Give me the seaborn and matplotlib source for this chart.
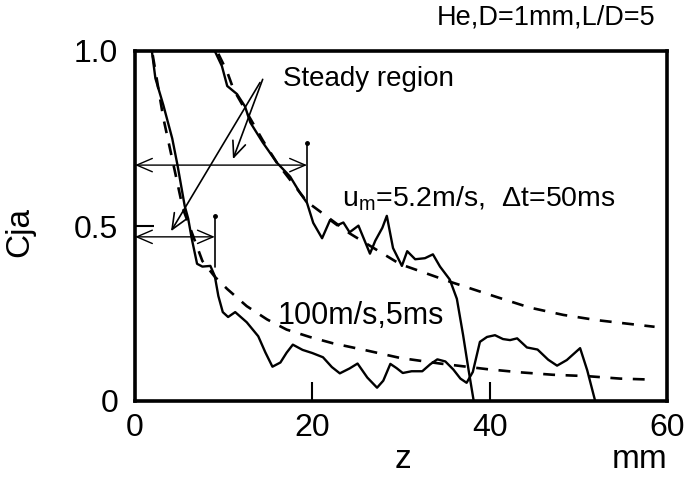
import matplotlib
matplotlib.use("Agg")
import matplotlib.pyplot as plt
import seaborn as sns
import numpy as np

# ---------------- data ----------------
# u_m = 5.2 m/s, dt = 50 ms (measured, solid)
z_slow = [9.0, 9.8, 10.4, 11.5, 12.4, 13.0, 14.4, 16.0, 17.5, 18.6, 19.4, 20.1,
          21.1, 22.0, 22.8, 23.5, 24.2, 25.2, 25.9, 26.5, 27.1, 27.9, 28.4, 29.1,
          30.1, 30.7, 31.6, 32.7, 33.6, 34.4, 35.5, 36.3, 37.0, 37.6, 38.2]
c_slow = [1.0, 0.957, 0.90, 0.877, 0.842, 0.796, 0.739, 0.681, 0.641, 0.595, 0.566, 0.509,
          0.465, 0.517, 0.502, 0.510, 0.482, 0.501, 0.458, 0.421, 0.458, 0.495, 0.529, 0.437,
          0.386, 0.428, 0.405, 0.408, 0.419, 0.384, 0.347, 0.292, 0.189, 0.092, 0.0]

# 100 m/s, 5 ms (measured, solid)
z_fast = [1.9, 2.3, 3.2, 4.2, 4.8, 5.6, 6.0, 6.4, 7.0, 7.6, 8.5, 9.0, 9.4, 9.9, 10.5,
          11.3, 12.6, 13.9, 14.7, 15.5, 16.4, 17.1, 17.8, 18.9, 20.0, 21.2, 22.2, 23.1,
          24.2, 25.1, 26.2, 27.3, 28.0, 28.8, 29.5, 30.2, 31.2, 32.4, 33.3, 34.1, 35.0,
          35.9, 36.7, 37.4, 38.1, 38.9, 39.7, 40.6, 41.5, 42.3, 43.1, 44.2, 45.4, 46.6,
          47.6, 48.7, 50.2, 51.0, 51.9]
c_fast = [1.0, 0.922, 0.845, 0.750, 0.673, 0.558, 0.521, 0.464, 0.392, 0.384, 0.386, 0.357,
          0.300, 0.254, 0.240, 0.254, 0.225, 0.185, 0.139, 0.098, 0.110, 0.138, 0.161, 0.146,
          0.137, 0.125, 0.097, 0.079, 0.093, 0.107, 0.067, 0.038, 0.058, 0.106, 0.094, 0.080,
          0.085, 0.085, 0.105, 0.119, 0.113, 0.090, 0.064, 0.052, 0.083, 0.169, 0.183, 0.188,
          0.177, 0.174, 0.179, 0.153, 0.147, 0.118, 0.101, 0.117, 0.151, 0.088, 0.0]

# reference (dashed) curves
z_slow_ref = [9.4, 10.4, 11.1, 14.4, 16.0, 19.4, 24.2, 29.9, 35.5, 40.8, 44.5, 48.3, 52.1, 55.5, 58.6]
c_slow_ref = [0.992, 0.94, 0.891, 0.745, 0.681, 0.569, 0.479, 0.391, 0.341, 0.297, 0.267, 0.246,
              0.231, 0.221, 0.212]
z_fast_ref = [2.0, 3.2, 4.5, 5.4, 7.6, 9.0, 10.4, 12.6, 14.9, 17.1, 19.7, 22.3, 26.2, 29.9,
              34.4, 39.7, 43.4, 47.1, 51.0, 54.7, 58.4]
c_fast_ref = [0.988, 0.808, 0.656, 0.55, 0.40, 0.355, 0.32, 0.271, 0.233, 0.204, 0.183, 0.165,
              0.144, 0.123, 0.107, 0.091, 0.082, 0.075, 0.071, 0.064, 0.061]

x_ticks = [0, 20, 40, 60]
x_tick_labels = ["0", "20", "40", "60"]
y_ticks = [0, 0.5, 1.0]
y_tick_labels = ["0", "0.5", "1.0"]

# ---------------- style ----------------
sns.set_theme(style="white")
plt.rcParams["font.family"] = ["Liberation Sans", "DejaVu Sans"]
plt.rcParams["text.color"] = "black"
plt.rcParams["mathtext.fontset"] = "custom"
plt.rcParams["mathtext.rm"] = "Liberation Sans"
plt.rcParams["mathtext.it"] = "Liberation Sans"

fig = plt.figure(figsize=(6.87, 4.78), dpi=100)
ax = fig.add_axes([135 / 687, 1 - 401 / 478, (667 - 135) / 687, (401 - 51) / 478])

solid_kw = dict(color="black", linewidth=1.7, estimator=None, sort=False, ax=ax, legend=False)
sns.lineplot(x=z_slow, y=c_slow, **solid_kw)
sns.lineplot(x=z_fast, y=c_fast, **solid_kw)
dash_kw = dict(color="black", linewidth=1.9, estimator=None, sort=False, ax=ax, legend=False)
l1 = sns.lineplot(x=z_slow_ref, y=c_slow_ref, **dash_kw)
l1.lines[-1].set_dashes((4.5, 4.0))
l2 = sns.lineplot(x=z_fast_ref, y=c_fast_ref, **dash_kw)
l2.lines[-1].set_dashes((4.5, 4.0))

ax.set_xlim(0, 60)
ax.set_ylim(0, 1.0)
ax.set_xticks(x_ticks)
ax.set_xticklabels(x_tick_labels)
ax.set_yticks(y_ticks)
ax.set_yticklabels(y_tick_labels)
ax.tick_params(direction="in", length=14, width=1.5, labelsize=23, colors="black",
               bottom=True, left=True)
ax.tick_params(axis="x", pad=9)
ax.tick_params(axis="y", pad=12)
for s in ax.spines.values():
    s.set_visible(True)
    s.set_color("black")
    s.set_linewidth(2.6)
ax.set_xlabel("")
ax.set_ylabel("")
ax.grid(False)

# axis labels
fig.text(20 / 687, 1 - 232 / 478, "Cja", rotation=90, ha="center", va="center", fontsize=24)
fig.text(403 / 687, 1 - 460 / 478, "z", ha="center", va="center", fontsize=24)
fig.text(667 / 687, 1 - 460 / 478, "mm", ha="right", va="center", fontsize=24)
fig.text(655 / 687, 1 - 18 / 478, "He,D=1mm,L/D=5", ha="right", va="center", fontsize=19.5)

# annotations
ax.text(16.7, 0.899, "Steady region", fontsize=20, ha="left", va="baseline")
ax.text(23.3, 0.556, r"u$_{\mathrm{m}}$=5.2m/s,  $\Delta$t=50ms", fontsize=20.5,
        ha="left", va="baseline")
ax.text(16.1, 0.221, "100m/s,5ms", fontsize=22, ha="left", va="baseline")

arrow_kw = dict(arrowstyle="<->,head_length=0.7,head_width=0.3", lw=1.0, color="black",
                shrinkA=0, shrinkB=0, mutation_scale=16)
ax.annotate("", xy=(0, 0.674), xytext=(19.4, 0.674), arrowprops=arrow_kw)
ax.annotate("", xy=(0, 0.469), xytext=(9.0, 0.469), arrowprops=arrow_kw)
ax.plot([19.4, 19.4], [0.566, 0.737], color="black", lw=1.2)
ax.plot([19.4], [0.737], "o", color="black", ms=2.5)
ax.plot([9.0, 9.0], [0.383, 0.529], color="black", lw=1.2)
ax.plot([9.0], [0.529], "o", color="black", ms=2.5)

p_kw = dict(arrowstyle="->,head_length=0.7,head_width=0.3", lw=1.2, color="black",
            shrinkA=0, shrinkB=0, mutation_scale=16)
ax.annotate("", xy=(11.05, 0.691), xytext=(14.4, 0.919), arrowprops=p_kw)
ax.annotate("", xy=(4.06, 0.485), xytext=(14.1, 0.91), arrowprops=p_kw)

fig.savefig("out.png", dpi=100, facecolor="white")
